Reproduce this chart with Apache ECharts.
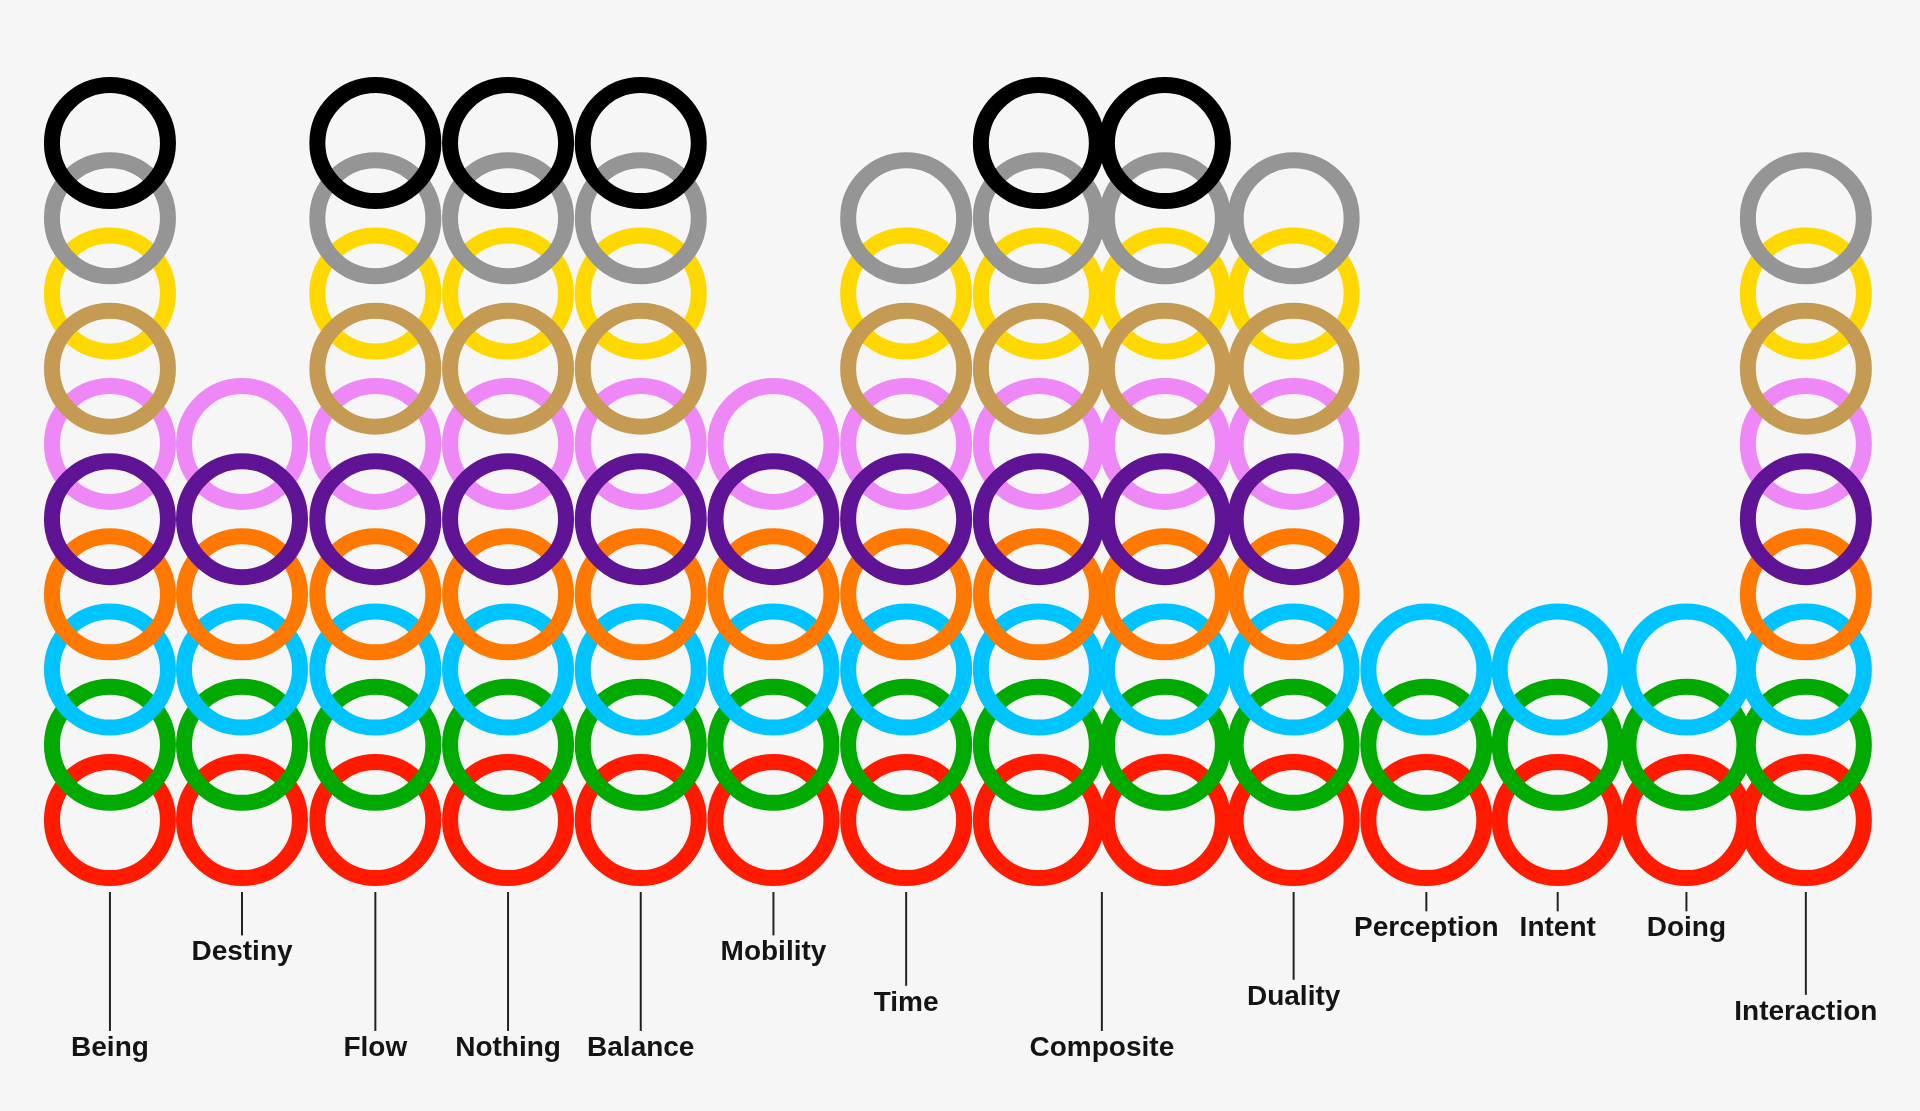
<!DOCTYPE html>
<html>
<head>
<meta charset="utf-8">
<script src="https://cdn.jsdelivr.net/npm/echarts@6/dist/echarts.min.js"></script>
<style>
html,body{margin:0;padding:0;background:#f6f6f6;}
#chart{width:1920px;height:1111px;}
</style>
</head>
<body>
<div id="chart"></div>
<script>
// ---- data ----
// column positions along the x axis (in column units)
const columnX = [0, 0.995, 2.0, 3.0, 4.0, 5.0, 6.0, 7.0, 7.95, 8.92, 9.92, 10.91, 11.88, 12.78];
// number of stacked rings in each column
const columnRings = [10, 6, 10, 10, 10, 6, 9, 10, 10, 9, 3, 3, 3, 9];
// ring rows, bottom (1) to top (10)
const ringNames = ['red', 'green', 'cyan', 'orange', 'purple', 'pink', 'tan', 'yellow', 'gray', 'black'];
const ringColors = ['#ff1a00', '#00aa00', '#00c4ff', '#ff7800', '#5e1494', '#ef88f7', '#c59b54', '#ffd800', '#959595', '#000000'];
// drawing order (first drawn is lowest)
const drawOrder = ['red', 'green', 'cyan', 'orange', 'pink', 'purple', 'yellow', 'tan', 'gray', 'black'];
// labels, the columns each one points to, and the level of the label text (y units)
const labelNames = ['Being', 'Destiny', 'Flow', 'Nothing', 'Balance', 'Mobility', 'Time', 'Composite', 'Duality', 'Perception', 'Intent', 'Doing', 'Interaction'];
const labelColumns = [[0], [1], [2], [3], [4], [5], [6], [7, 8], [9], [10], [11], [12], [13]];
const labelLevel = [-2.03, -0.76, -2.03, -2.03, -2.03, -0.76, -1.43, -2.03, -1.35, -0.44, -0.44, -0.44, -1.55];

// ---- chart ----
const RING = 116, RING_W = 16;
const chart = echarts.init(document.getElementById('chart'), null, {renderer: 'canvas'});

const ringSeries = drawOrder.map(function (name) {
  const row = ringNames.indexOf(name) + 1;
  const data = [];
  columnX.forEach(function (x, i) { if (columnRings[i] >= row) data.push([x, row]); });
  return {
    type: 'scatter',
    name: name,
    symbol: 'circle',
    symbolSize: RING,
    silent: true,
    data: data,
    itemStyle: {color: 'rgba(0,0,0,0)', borderColor: ringColors[row - 1], borderWidth: RING_W, opacity: 1},
    emphasis: {disabled: true}
  };
});

const labelData = labelNames.map(function (n, i) {
  const cols = labelColumns[i];
  let sx = 0; cols.forEach(function (c) { sx += columnX[c]; });
  return [sx / cols.length, labelLevel[i]];
});

const labelSeries = {
  type: 'custom',
  coordinateSystem: 'cartesian2d',
  silent: true,
  data: labelData,
  z: 5,
  renderItem: function (params, api) {
    const x = api.value(0), lvl = api.value(1);
    const base = api.coord([x, 1]);
    const t = api.coord([x, lvl]);
    return {
      type: 'group',
      children: [
        {type: 'line', shape: {x1: base[0], y1: base[1] + 72, x2: base[0], y2: t[1] - 17},
         style: {stroke: '#222', lineWidth: 2}},
        {type: 'text', x: t[0], y: t[1],
         style: {text: labelNames[params.dataIndex], fill: '#141414',
                 font: 'bold 28px "Liberation Sans", Arial, sans-serif',
                 align: 'center', verticalAlign: 'middle'}}
      ]
    };
  }
};

chart.setOption({
  backgroundColor: '#f6f6f6',
  animation: false,
  grid: {left: 43.6, width: 1857.8, top: 67.8, height: 1015.5, outerBoundsMode: 'none', containLabel: false},
  xAxis: {type: 'value', min: -0.5, max: 13.5, show: false},
  yAxis: {type: 'value', min: -2.5, max: 11, show: false},
  series: ringSeries.concat([labelSeries])
});
</script>
</body>
</html>
